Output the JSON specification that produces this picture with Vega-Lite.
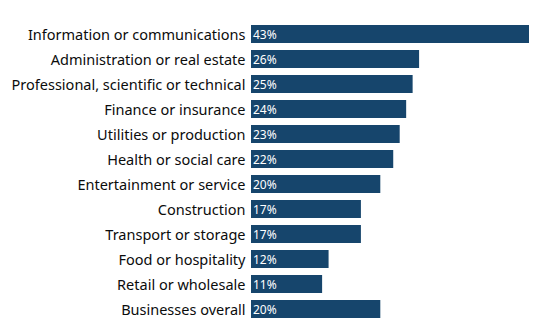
{
  "$schema": "https://vega.github.io/schema/vega-lite/v6.json",
  "autosize": {"type": "none"},
  "padding": {"left": 251, "top": 21.5, "right": 12, "bottom": 11.5},
  "width": 278,
  "height": 300,
  "background": "white",
  "config": {"view": {"stroke": null}, "font": "Noto Sans"},
  "data": {"values": [
    {"sector": "Information or communications", "value": 0.43},
    {"sector": "Administration or real estate", "value": 0.26},
    {"sector": "Professional, scientific or technical", "value": 0.25},
    {"sector": "Finance or insurance", "value": 0.24},
    {"sector": "Utilities or production", "value": 0.23},
    {"sector": "Health or social care", "value": 0.22},
    {"sector": "Entertainment or service", "value": 0.20},
    {"sector": "Construction", "value": 0.17},
    {"sector": "Transport or storage", "value": 0.17},
    {"sector": "Food or hospitality", "value": 0.12},
    {"sector": "Retail or wholesale", "value": 0.11},
    {"sector": "Businesses overall", "value": 0.20}
  ]},
  "encoding": {
    "y": {"field": "sector", "type": "nominal", "sort": null,
      "scale": {"paddingInner": 0.28, "paddingOuter": 0.14},
      "axis": {"title": null, "domain": false, "ticks": false, "labelPadding": 6, "labelOffset": 1.5,
        "labelFontSize": 14.5, "labelColor": "#0b0c0c", "labelLimit": 300}},
    "x": {"field": "value", "type": "quantitative", "scale": {"domain": [0, 0.43], "nice": false}, "axis": null}
  },
  "layer": [
    {"mark": {"type": "bar", "color": "#16456c"}},
    {"mark": {"type": "text", "align": "left", "dx": 2, "dy": 0.5, "color": "white", "fontSize": 12},
      "encoding": {"x": {"datum": 0, "type": "quantitative"}, "text": {"field": "value", "type": "quantitative", "format": ".0%"}}}
  ]
}
